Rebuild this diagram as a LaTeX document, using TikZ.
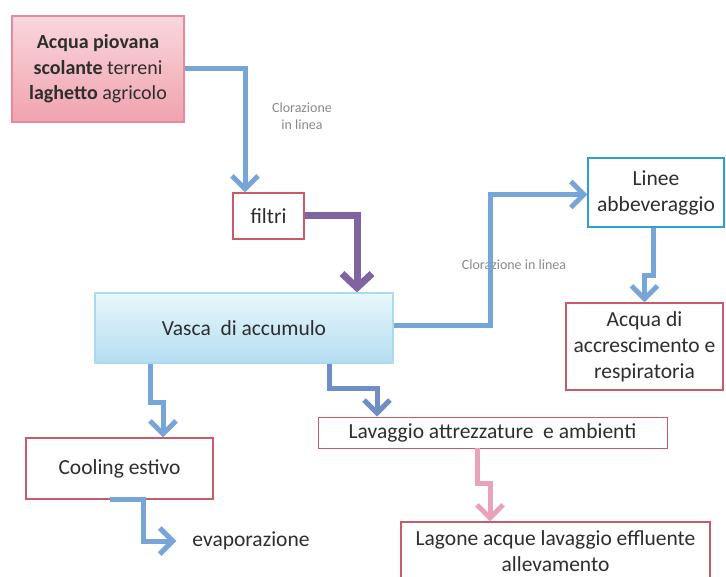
\documentclass[tikz,border=0pt]{standalone}
\usepackage{fontspec}
\setmainfont{Carlito}
\usetikzlibrary{arrows.meta,calc}
\definecolor{abl}{HTML}{78A5D8}
\definecolor{abl2}{HTML}{6F8EC6}
\definecolor{apur}{HTML}{8064A2}
\definecolor{apink}{HTML}{E8A3B9}
\definecolor{boxred}{HTML}{C85A6A}
\definecolor{linb}{HTML}{2E9FD0}
\definecolor{srcb}{HTML}{E58A9A}
\definecolor{srctop}{HTML}{FAD6DC}
\definecolor{srcbot}{HTML}{F0A3AE}
\definecolor{vtop}{HTML}{E8F7FC}
\definecolor{vbot}{HTML}{B5DEF1}
\definecolor{vbrd}{HTML}{A9DAEE}
\definecolor{txt}{HTML}{2E2E2E}
\definecolor{lblc}{HTML}{8A8A8A}
\begin{document}
\begin{tikzpicture}[x=1pt,y=-1pt,
  box/.style={draw=boxred, line width=1.2pt, fill=white, align=center, text=txt,
    font=\fontsize{21.5}{26}\selectfont, inner sep=0pt},
  flow/.style={line width=5pt, draw=abl, -{Straight Barb[length=13pt,width=26pt]}},
  lbl/.style={text=lblc, font=\fontsize{14}{17}\selectfont, align=center, inner sep=0pt}]
\fill[white] (0,0) rectangle (726,577);
\useasboundingbox (0,0) rectangle (726,577);
% nodes
\node[box, draw=srcb, top color=srctop, bottom color=srcbot, minimum width=172pt, minimum height=106pt,
  font=\fontsize{20}{25.5}\selectfont] (src) at (98,69)
  {\textbf{Acqua piovana}\\\textbf{scolante} terreni\\\textbf{laghetto} agricolo};
\node[box, minimum width=71pt, minimum height=46pt] (filtri) at (268.5,216) {filtri};
\node[box, draw=vbrd, top color=vtop, bottom color=vbot, minimum width=298pt, minimum height=70pt] (vasca) at (244,328) {Vasca\ \ di accumulo};
\node[box, draw=linb, minimum width=136pt, minimum height=69pt] (linee) at (656,192.5) {Linee\\abbeveraggio};
\node[box, minimum width=157pt, minimum height=87pt] (acqua) at (644.5,346.5) {Acqua di\\accrescimento e\\respiratoria};
\node[box, minimum width=187pt, minimum height=61pt] (cooling) at (119.5,468.5) {Cooling estivo};
\node[box, line width=0.9pt, minimum width=349pt, minimum height=31pt] (lavaggio) at (492.5,432.5) {Lavaggio attrezzature\ \ e ambienti};
\node[box, minimum width=309pt, minimum height=62pt, text depth=0pt] (lagone) at (555.5,553) {Lagone acque lavaggio effluente\\allevamento\vspace{3pt}};
\node[text=txt, font=\fontsize{21.5}{26}\selectfont, inner sep=4pt] (evap) at (251,541) {evaporazione};
\node[lbl] (lab1) at (302,116) {Clorazione\\in linea};
\node[lbl] (lab2) at (514,265) {Clorazione in linea};
% connectors
\draw[flow] (src.east) -| ([xshift=-23.5pt]filtri.north);
\draw[flow, draw=apur, line width=7pt, -{Straight Barb[length=14pt,width=30pt]}] (filtri.east) -| ([xshift=113pt]vasca.north);
\draw[flow] ([yshift=2pt]vasca.east) -- ++(97,0) |- ([yshift=-2pt]linee.west);
\draw[flow] ([xshift=-3pt]linee.south) -- ++(0,48) -| (acqua.north);
\draw[flow] ([xshift=-94pt]vasca.south) -- ++(0,39) -| ([xshift=43.5pt]cooling.north);
\draw[flow, draw=abl2] ([xshift=85pt]vasca.south) -- ++(0,25) -| ([xshift=-115.5pt]lavaggio.north);
\draw[flow, draw=apink] ([xshift=-15.5pt]lavaggio.south) -- ++(0,35) -| ([xshift=-65.5pt]lagone.north);
\draw[flow, shorten >=12pt] ([xshift=-9.5pt]cooling.south) -- ([xshift=23.5pt]cooling.south) |- (evap.west);
\end{tikzpicture}
\end{document}
